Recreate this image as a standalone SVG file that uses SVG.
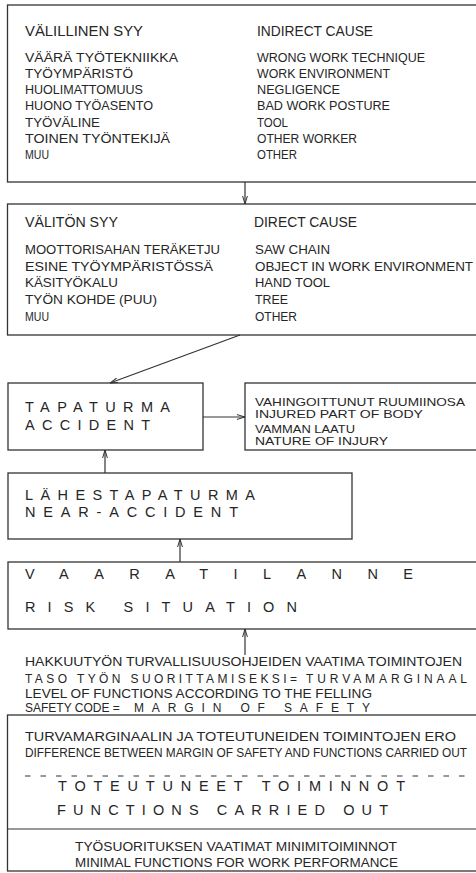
<svg xmlns="http://www.w3.org/2000/svg" width="476" height="873" viewBox="0 0 476 873">
<style>
.bx{fill:#fff;stroke:#333;stroke-width:1.3}
.ln{fill:none;stroke:#333;stroke-width:1.2}
text{font-family:"Liberation Sans","DejaVu Sans",sans-serif;fill:#262626}
.h{font-size:14px}
.t{font-size:12px}
.s{font-size:11.5px}
.b{font-size:14.5px}
</style>
<defs>
<marker id="ar" viewBox="0 0 8 6" refX="8" refY="3" markerWidth="8" markerHeight="6" markerUnits="userSpaceOnUse" orient="auto">
<path d="M0,0.6 L8,3 L0,5.4" fill="none" stroke="#333" stroke-width="1"/>
</marker>
</defs>
<rect width="476" height="873" fill="#fff"/>

<g id="indirect">
<rect class="bx" x="7.5" y="5" width="490" height="177"/>
<text class="h" x="25" y="36" textLength="118" lengthAdjust="spacingAndGlyphs">VÄLILLINEN SYY</text>
<text class="h" x="257" y="36" textLength="116" lengthAdjust="spacingAndGlyphs">INDIRECT CAUSE</text>
<text class="t" x="25" y="62" textLength="153" lengthAdjust="spacingAndGlyphs">VÄÄRÄ TYÖTEKNIIKKA</text>
<text class="t" x="25" y="78" textLength="108" lengthAdjust="spacingAndGlyphs">TYÖYMPÄRISTÖ</text>
<text class="t" x="25" y="94" textLength="118" lengthAdjust="spacingAndGlyphs">HUOLIMATTOMUUS</text>
<text class="t" x="25" y="110" textLength="128" lengthAdjust="spacingAndGlyphs">HUONO TYÖASENTO</text>
<text class="t" x="25" y="127" textLength="75" lengthAdjust="spacingAndGlyphs">TYÖVÄLINE</text>
<text class="t" x="25" y="143" textLength="145" lengthAdjust="spacingAndGlyphs">TOINEN TYÖNTEKIJÄ</text>
<text class="t" x="25" y="159" textLength="24" lengthAdjust="spacingAndGlyphs">MUU</text>
<text class="t" x="257" y="62" textLength="168" lengthAdjust="spacingAndGlyphs">WRONG WORK TECHNIQUE</text>
<text class="t" x="257" y="78" textLength="133" lengthAdjust="spacingAndGlyphs">WORK ENVIRONMENT</text>
<text class="t" x="257" y="94" textLength="83" lengthAdjust="spacingAndGlyphs">NEGLIGENCE</text>
<text class="t" x="257" y="110" textLength="133" lengthAdjust="spacingAndGlyphs">BAD WORK POSTURE</text>
<text class="t" x="257" y="127" textLength="31" lengthAdjust="spacingAndGlyphs">TOOL</text>
<text class="t" x="257" y="143" textLength="100" lengthAdjust="spacingAndGlyphs">OTHER WORKER</text>
<text class="t" x="257" y="159" textLength="40" lengthAdjust="spacingAndGlyphs">OTHER</text>
</g>

<g id="direct">
<rect class="bx" x="7.5" y="204" width="490" height="131"/>
<text class="h" x="25" y="227" textLength="93" lengthAdjust="spacingAndGlyphs">VÄLITÖN SYY</text>
<text class="h" x="254" y="227" textLength="103" lengthAdjust="spacingAndGlyphs">DIRECT CAUSE</text>
<text class="t" x="25" y="254" textLength="195" lengthAdjust="spacingAndGlyphs">MOOTTORISAHAN TERÄKETJU</text>
<text class="t" x="25" y="271" textLength="188" lengthAdjust="spacingAndGlyphs">ESINE TYÖYMPÄRISTÖSSÄ</text>
<text class="t" x="25" y="287" textLength="93" lengthAdjust="spacingAndGlyphs">KÄSITYÖKALU</text>
<text class="t" x="25" y="304" textLength="132" lengthAdjust="spacingAndGlyphs">TYÖN KOHDE (PUU)</text>
<text class="t" x="25" y="321" textLength="24" lengthAdjust="spacingAndGlyphs">MUU</text>
<text class="t" x="255" y="254" textLength="75" lengthAdjust="spacingAndGlyphs">SAW CHAIN</text>
<text class="t" x="255" y="271" textLength="218" lengthAdjust="spacingAndGlyphs">OBJECT IN WORK ENVIRONMENT</text>
<text class="t" x="255" y="287" textLength="75" lengthAdjust="spacingAndGlyphs">HAND TOOL</text>
<text class="t" x="255" y="304" textLength="33" lengthAdjust="spacingAndGlyphs">TREE</text>
<text class="t" x="255" y="321" textLength="42" lengthAdjust="spacingAndGlyphs">OTHER</text>
</g>

<g id="accident">
<rect class="bx" x="8" y="383" width="195" height="67"/>
<text class="b" x="25" y="412" textLength="145" lengthAdjust="spacing">TAPATURMA</text>
<text class="b" x="25" y="430" textLength="125" lengthAdjust="spacing">ACCIDENT</text>
</g>

<g id="injury">
<rect class="bx" x="245" y="383" width="250" height="67"/>
<text class="s" x="255" y="406" textLength="210" lengthAdjust="spacingAndGlyphs">VAHINGOITTUNUT RUUMIINOSA</text>
<text class="s" x="255" y="418" textLength="168" lengthAdjust="spacingAndGlyphs">INJURED PART OF BODY</text>
<text class="s" x="255" y="433" textLength="100" lengthAdjust="spacingAndGlyphs">VAMMAN LAATU</text>
<text class="s" x="255" y="445" textLength="133" lengthAdjust="spacingAndGlyphs">NATURE OF INJURY</text>
</g>

<g id="near-accident">
<rect class="bx" x="8" y="473" width="344" height="66"/>
<text class="b" x="25" y="500" textLength="230" lengthAdjust="spacing">LÄHESTAPATURMA</text>
<text class="b" x="25" y="517" textLength="213" lengthAdjust="spacing">NEAR-ACCIDENT</text>
</g>

<g id="risk">
<rect class="bx" x="8" y="562" width="490" height="67"/>
<text class="b" x="25" y="579" textLength="388" lengthAdjust="spacing">VAARATILANNE</text>
<text class="b" x="25" y="612" textLength="272" lengthAdjust="spacing">RISK SITUATION</text>
</g>

<g id="margin-text">
<text class="t" x="25" y="666" textLength="437" lengthAdjust="spacingAndGlyphs">HAKKUUTYÖN TURVALLISUUSOHJEIDEN VAATIMA TOIMINTOJEN</text>
<text class="t" x="25" y="683"><tspan textLength="272" lengthAdjust="spacing">TASO TYÖN SUORITTAMISEKSI=</tspan><tspan x="306" textLength="161" lengthAdjust="spacing">TURVAMARGINAAL</tspan></text>
<text class="t" x="25" y="698" textLength="347" lengthAdjust="spacingAndGlyphs">LEVEL OF FUNCTIONS ACCORDING TO THE FELLING</text>
<text class="t" x="25" y="712"><tspan>SAFETY CODE =</tspan><tspan x="134" textLength="236" lengthAdjust="spacing">MARGIN OF SAFETY</tspan></text>
</g>

<g id="functions">
<rect class="bx" x="7.5" y="715" width="490" height="156"/>
<text class="t" x="25" y="741" textLength="431" lengthAdjust="spacingAndGlyphs">TURVAMARGINAALIN JA TOTEUTUNEIDEN TOIMINTOJEN ERO</text>
<text class="t" x="25" y="757" textLength="442" lengthAdjust="spacingAndGlyphs">DIFFERENCE BETWEEN MARGIN OF SAFETY AND FUNCTIONS CARRIED OUT</text>
<line class="ln" x1="25" y1="776" x2="470" y2="776" stroke-dasharray="5.5 10"/>
<text class="b" x="58" y="791" textLength="347" lengthAdjust="spacing">TOTEUTUNEET TOIMINNOT</text>
<text class="b" x="57" y="815" textLength="331" lengthAdjust="spacing">FUNCTIONS CARRIED OUT</text>
<line class="ln" x1="7.5" y1="829" x2="476" y2="829"/>
<text class="t" x="75" y="851" textLength="322" lengthAdjust="spacingAndGlyphs">TYÖSUORITUKSEN VAATIMAT MINIMITOIMINNOT</text>
<text class="t" x="75" y="867" textLength="323" lengthAdjust="spacingAndGlyphs">MINIMAL FUNCTIONS FOR WORK PERFORMANCE</text>
</g>

<g id="connectors">
<line class="ln" x1="245" y1="182" x2="245" y2="204" marker-end="url(#ar)"/>
<line class="ln" x1="240" y1="335" x2="110" y2="383" marker-end="url(#ar)"/>
<line class="ln" x1="203" y1="417" x2="245" y2="417" marker-end="url(#ar)"/>
<line class="ln" x1="105" y1="473" x2="105" y2="450" marker-end="url(#ar)"/>
<line class="ln" x1="180" y1="562" x2="180" y2="539" marker-end="url(#ar)"/>
<line class="ln" x1="245" y1="655" x2="245" y2="629" marker-end="url(#ar)"/>
</g>
</svg>
